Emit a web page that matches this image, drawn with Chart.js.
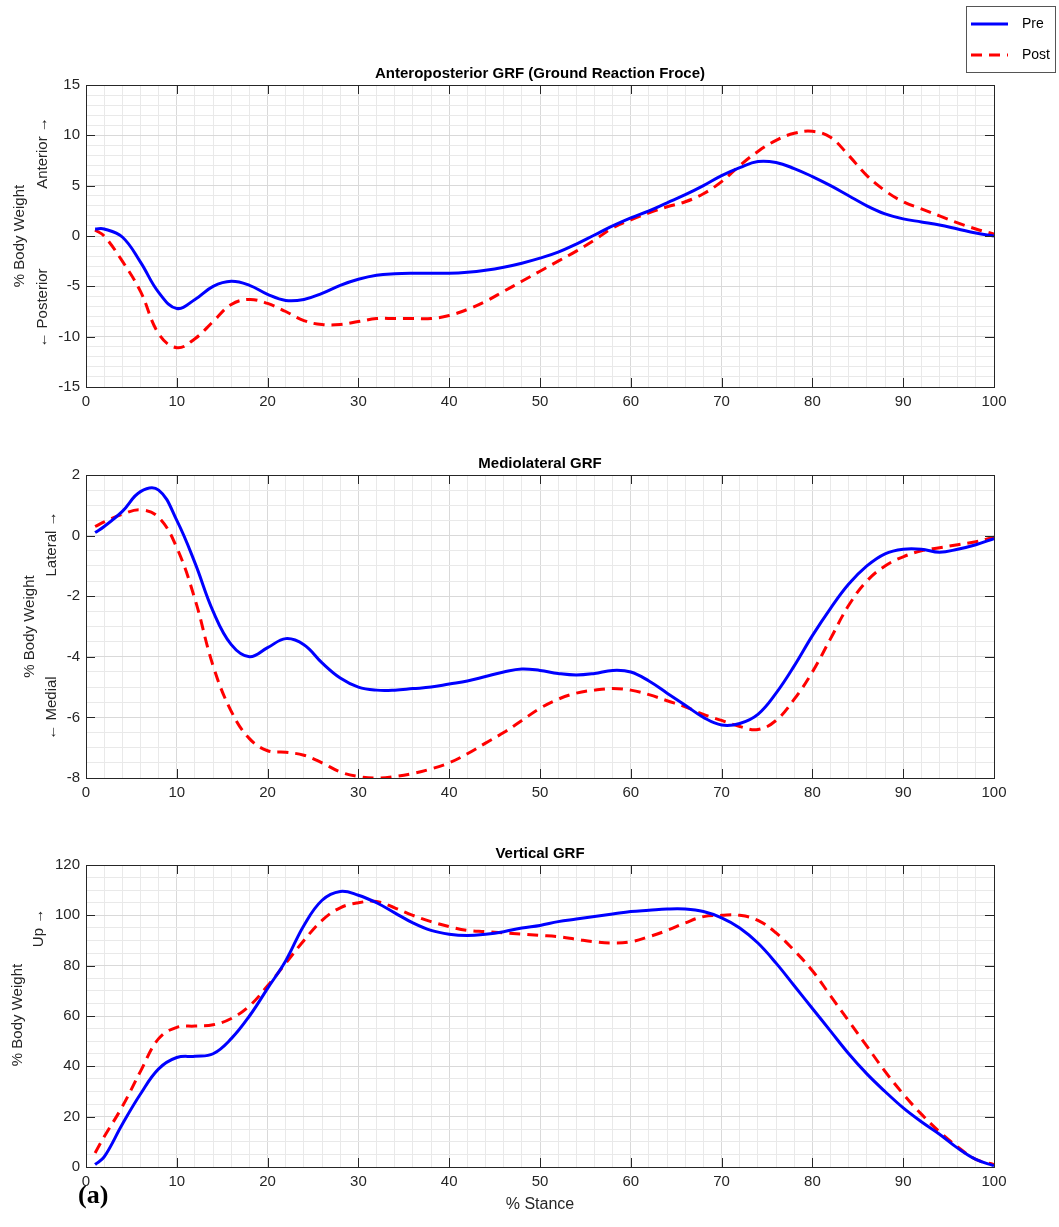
<!DOCTYPE html>
<html>
<head>
<meta charset="utf-8">
<script src="https://cdn.jsdelivr.net/npm/chart.js@4.4.0/dist/chart.umd.min.js"></script>
<style>
body { margin: 0; background: #fff; }
#wrap { position: relative; width: 1059px; height: 1227px; }
canvas { position: absolute; left: 0; }
</style>
</head>
<body>
<div id="wrap">
  <canvas id="apChart" style="top:0px" width="1059" height="420"></canvas>
  <canvas id="mlChart" style="top:420px" width="1059" height="390"></canvas>
  <canvas id="vChart" style="top:810px" width="1059" height="417"></canvas>
</div>
<script>
// % stance sample points
var stance = [1, 2, 4, 6, 8, 10, 12, 14, 16, 18, 20, 22, 24, 26, 28, 30, 32, 34, 36, 38, 40,
  42, 44, 46, 48, 50, 52, 54, 56, 58, 60, 62, 64, 66, 68, 70, 72, 74, 76, 78, 80,
  82, 84, 86, 88, 90, 92, 94, 96, 98, 100];

// anteroposterior GRF (% body weight)
var apPre = [0.7, 0.7, -0.1, -2.6, -5.6, -7.2, -6.3, -5.0, -4.5, -4.9, -5.8, -6.4, -6.3, -5.7, -4.9, -4.3, -3.9, -3.75, -3.7, -3.7, -3.7,
  -3.6, -3.4, -3.1, -2.7, -2.2, -1.6, -0.8, 0.1, 1.0, 1.8, 2.5, 3.3, 4.1, 5.0, 6.0, 6.8, 7.4, 7.3, 6.7, 5.9,
  5.0, 4.0, 3.0, 2.2, 1.7, 1.4, 1.1, 0.7, 0.3, 0.0];
var apPost = [0.6, 0.0, -2.5, -5.5, -9.7, -11.1, -10.2, -8.5, -6.8, -6.3, -6.7, -7.5, -8.4, -8.8, -8.8, -8.5, -8.2, -8.2, -8.2, -8.2, -7.9,
  -7.3, -6.5, -5.5, -4.5, -3.5, -2.5, -1.5, -0.4, 0.8, 1.6, 2.3, 2.9, 3.4, 4.2, 5.4, 7.0, 8.4, 9.5, 10.2, 10.4,
  9.8, 8.0, 6.0, 4.5, 3.4, 2.7, 2.0, 1.3, 0.7, 0.2];

// mediolateral GRF
var mlPre = [0.1, 0.3, 0.8, 1.45, 1.5, 0.5, -0.9, -2.5, -3.6, -4.0, -3.7, -3.4, -3.6, -4.2, -4.7, -5.0, -5.1, -5.1, -5.05, -5.0, -4.9,
  -4.8, -4.65, -4.5, -4.4, -4.45, -4.55, -4.6, -4.55, -4.45, -4.5, -4.8, -5.2, -5.6, -6.0, -6.25, -6.2, -5.9, -5.2, -4.3, -3.3,
  -2.4, -1.6, -1.0, -0.6, -0.45, -0.45, -0.55, -0.45, -0.3, -0.1];
var mlPost = [0.3, 0.45, 0.7, 0.85, 0.6, -0.4, -2.1, -4.3, -5.8, -6.7, -7.1, -7.15, -7.25, -7.5, -7.8, -7.95, -8.0, -7.95, -7.85, -7.7, -7.5,
  -7.2, -6.85, -6.5, -6.1, -5.7, -5.4, -5.2, -5.1, -5.05, -5.1, -5.25, -5.45, -5.65, -5.9, -6.1, -6.3, -6.4, -6.1, -5.4, -4.5,
  -3.4, -2.3, -1.5, -1.0, -0.7, -0.5, -0.4, -0.3, -0.2, -0.05];

// vertical GRF
var vPre = [1, 4, 17, 29, 39, 43.5, 44, 45, 51, 60, 71, 82, 96, 106, 109.5, 108, 105, 101, 97, 94, 92.5,
  92, 92.5, 93.5, 95, 96, 97.5, 98.5, 99.5, 100.5, 101.5, 102, 102.5, 102.5, 101.5, 99, 95, 89, 81, 72, 63,
  54, 45, 37, 30, 23.5, 18, 13, 7.5, 3, 0.5];
var vPost = [5.6, 12, 24, 38, 51, 55.5, 56, 56.5, 59, 64, 72, 81, 90, 98, 103, 105, 105.5, 103, 100, 97.5, 95.5,
  94, 93.5, 93, 92.5, 92, 91.5, 90.5, 89.5, 89, 89.5, 91.5, 94, 97, 99.5, 100, 100, 98, 93, 86, 78,
  68, 58, 48, 38, 29, 21, 14, 8, 3, 1];

var INK = '#262626';
var FONT = '"Liberation Sans", Arial, sans-serif';

function pts(vals) {
  return stance.map(function(x, i) { return { x: x, y: vals[i] }; });
}

function isMajor(v, m) {
  return Math.abs(v / m - Math.round(v / m)) < 1e-6;
}

function vtext(ctx, s, x, y) {
  ctx.save();
  ctx.translate(x, y);
  ctx.rotate(-Math.PI / 2);
  ctx.fillText(s, 0, 0);
  ctx.restore();
}

// box, inner ticks, title, axis labels, legend
var frame = {
  id: 'frame',
  afterDraw: function(chart) {
    var o = chart.options.plugins.frame;
    var a = chart.chartArea, ctx = chart.ctx;
    var xs = chart.scales.x, ys = chart.scales.y;
    ctx.save();
    ctx.strokeStyle = INK;
    ctx.lineWidth = 1;
    ctx.beginPath();
    for (var v = 0; v <= 100; v += 10) {
      var px = Math.round(xs.getPixelForValue(v)) + 0.5;
      ctx.moveTo(px, a.bottom); ctx.lineTo(px, a.bottom - 9);
      ctx.moveTo(px, a.top); ctx.lineTo(px, a.top + 9);
    }
    ys.ticks.forEach(function(t) {
      if (!isMajor(t.value, o.yMajor)) return;
      var py = Math.round(ys.getPixelForValue(t.value)) + 0.5;
      ctx.moveTo(a.left, py); ctx.lineTo(a.left + 9, py);
      ctx.moveTo(a.right, py); ctx.lineTo(a.right - 9, py);
    });
    ctx.stroke();
    ctx.strokeRect(Math.round(a.left) + 0.5, Math.round(a.top) + 0.5,
      Math.round(a.right - a.left), Math.round(a.bottom - a.top));

    ctx.fillStyle = '#000';
    ctx.textAlign = 'center';
    ctx.textBaseline = 'middle';
    ctx.font = 'bold 15px ' + FONT;
    ctx.fillText(o.title, (a.left + a.right) / 2, a.top - 11);

    ctx.fillStyle = INK;
    ctx.font = '15px ' + FONT;
    vtext(ctx, '% Body Weight', o.labelX, (a.top + a.bottom) / 2 + o.labelDy);
    if (o.up) vtext(ctx, o.up, o.dirX, o.upY);
    if (o.down) vtext(ctx, o.down, o.dirX, o.downY);
    if (o.xlabel) {
      ctx.font = '16px ' + FONT;
      ctx.fillText(o.xlabel, (a.left + a.right) / 2, a.bottom + 38);
      ctx.font = 'bold 26px "Liberation Serif", "Times New Roman", serif';
      ctx.textAlign = 'left';
      ctx.fillStyle = '#000';
      ctx.fillText('(a)', 78, a.bottom + 29);
    }

    if (o.legend) {
      var ds = chart.data.datasets;
      ctx.fillStyle = '#fff';
      ctx.fillRect(966, 6, 89, 66);
      ctx.strokeStyle = '#555';
      ctx.strokeRect(966.5, 6.5, 89, 66);
      ctx.font = '14px ' + FONT;
      ctx.textAlign = 'left';
      ctx.fillStyle = '#000';
      ds.forEach(function(d, i) {
        var ly = 24 + i * 31;
        ctx.strokeStyle = d.borderColor;
        ctx.lineWidth = 3;
        ctx.setLineDash(d.borderDash || []);
        ctx.beginPath();
        ctx.moveTo(971, ly); ctx.lineTo(1008, ly);
        ctx.stroke();
        ctx.setLineDash([]);
        ctx.fillText(d.label, 1022, ly);
      });
    }
    ctx.restore();
  }
};

function makeChart(id, pre, post, yMin, yMax, yStep, yMajor, padTop, xHeight, fr) {
  return new Chart(document.getElementById(id), {
    type: 'line',
    data: {
      datasets: [
        { label: 'Pre', data: pts(pre), borderColor: '#0000ff', borderWidth: 3,
          pointRadius: 0, fill: false, tension: 0.4 },
        { label: 'Post', data: pts(post), borderColor: '#ff0000', borderWidth: 3,
          borderDash: [11, 7], pointRadius: 0, fill: false, tension: 0.4 }
      ]
    },
    options: {
      responsive: false,
      animation: false,
      layout: { padding: { top: padTop, right: 65, left: 0, bottom: 0 } },
      plugins: {
        legend: { display: false },
        tooltip: { enabled: false },
        frame: Object.assign({ yMajor: yMajor }, fr)
      },
      scales: {
        x: {
          type: 'linear', min: 0, max: 100,
          afterFit: function(s) { s.height = xHeight; },
          border: { display: false },
          grid: {
            drawTicks: false,
            color: function(c) { return isMajor(c.tick.value, 10) ? '#d9d9d9' : '#e9e9e9'; }
          },
          ticks: {
            stepSize: 2, autoSkip: false, maxRotation: 0, padding: 6,
            color: INK, font: { family: FONT, size: 15 },
            callback: function(v) { return isMajor(v, 10) ? v : ''; }
          }
        },
        y: {
          min: yMin, max: yMax,
          afterFit: function(s) { s.width = 86; },
          border: { display: false },
          grid: {
            drawTicks: false,
            color: function(c) { return isMajor(c.tick.value, yMajor) ? '#d9d9d9' : '#e9e9e9'; }
          },
          ticks: {
            stepSize: yStep, autoSkip: false, padding: 6,
            color: INK, font: { family: FONT, size: 15 },
            callback: function(v) { return isMajor(v, yMajor) ? Math.round(v) : ''; }
          }
        }
      }
    },
    plugins: [frame]
  });
}

makeChart('apChart', apPre, apPost, -15, 15, 1, 5, 85, 33, {
  title: 'Anteroposterior GRF (Ground Reaction Froce)',
  labelX: 20, labelDy: 0, dirX: 43, up: 'Anterior \u2192', upY: 153, down: '\u2190 Posterior', downY: 308,
  legend: true
});
makeChart('mlChart', mlPre, mlPost, -8, 2, 0.5, 2, 55, 32, {
  title: 'Mediolateral GRF',
  labelX: 30, labelDy: 0, dirX: 52, up: 'Lateral \u2192', upY: 124, down: '\u2190 Medial', downY: 288
});
makeChart('vChart', vPre, vPost, 0, 120, 5, 20, 55, 60, {
  title: 'Vertical GRF',
  labelX: 18, labelDy: -1, dirX: 39, up: 'Up \u2192', upY: 118, xlabel: '% Stance'
});
</script>
</body>
</html>
